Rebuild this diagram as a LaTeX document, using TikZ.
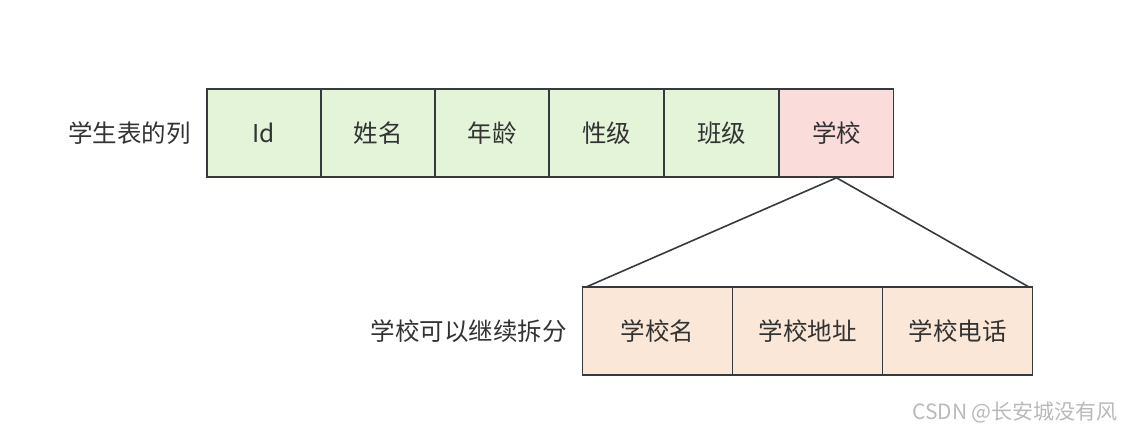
\documentclass[tikz,border=0pt]{standalone}
\usepackage{fontspec}
\setmainfont{Noto Sans CJK SC}
\usetikzlibrary{positioning}

\definecolor{cellgreen}{HTML}{E3F4D9}
\definecolor{cellpink}{HTML}{FADCDA}
\definecolor{cellpeach}{HTML}{FBE7D7}
\definecolor{edgegray}{HTML}{36393D}
\definecolor{textgray}{HTML}{333333}

\begin{document}
\begin{tikzpicture}[
  x=1pt, y=-1pt,
  font=\fontsize{24.5}{28}\selectfont,
  col/.style={draw=edgegray, line width=1.6pt, minimum width=114pt, minimum height=88pt, inner sep=0pt, text=textgray, fill=cellgreen},
  subcol/.style={col, minimum width=150pt, fill=cellpeach},
  label/.style={text=textgray, anchor=east, inner sep=0pt},
  split/.style={draw=edgegray, line width=1.6pt}
]
\useasboundingbox (0,0) rectangle (1124,433);

\node[col] (id) at (264, 133) {Id};
\node[col] (name) at (378, 133) {姓名};
\node[col] (age) at (492, 133) {年龄};
\node[col] (sex) at (606.5, 133) {性级};
\node[col] (class) at (721.5, 133) {班级};
\node[col, fill=cellpink] (school) at (836.5, 133) {学校};
\node[label] (cols) at (191, 133) {学生表的列};

\node[subcol] (sname) at (657.5, 331) {学校名};
\node[subcol] (saddr) at (807.5, 331) {学校地址};
\node[subcol] (sphone) at (957.5, 331) {学校电话};
\node[label] (more) at (567, 331) {学校可以继续拆分};

\draw[split] (school.south) -- ([xshift=4pt, yshift=-1pt]sname.north west);
\draw[split] (school.south) -- ([xshift=-4pt, yshift=-1pt]sphone.north east);

\node[anchor=east, text=gray!55, font=\fontsize{21}{24}\selectfont, inner sep=0pt] (mark) at (1118, 412) {CSDN @长安城没有风};
\end{tikzpicture}
\end{document}
